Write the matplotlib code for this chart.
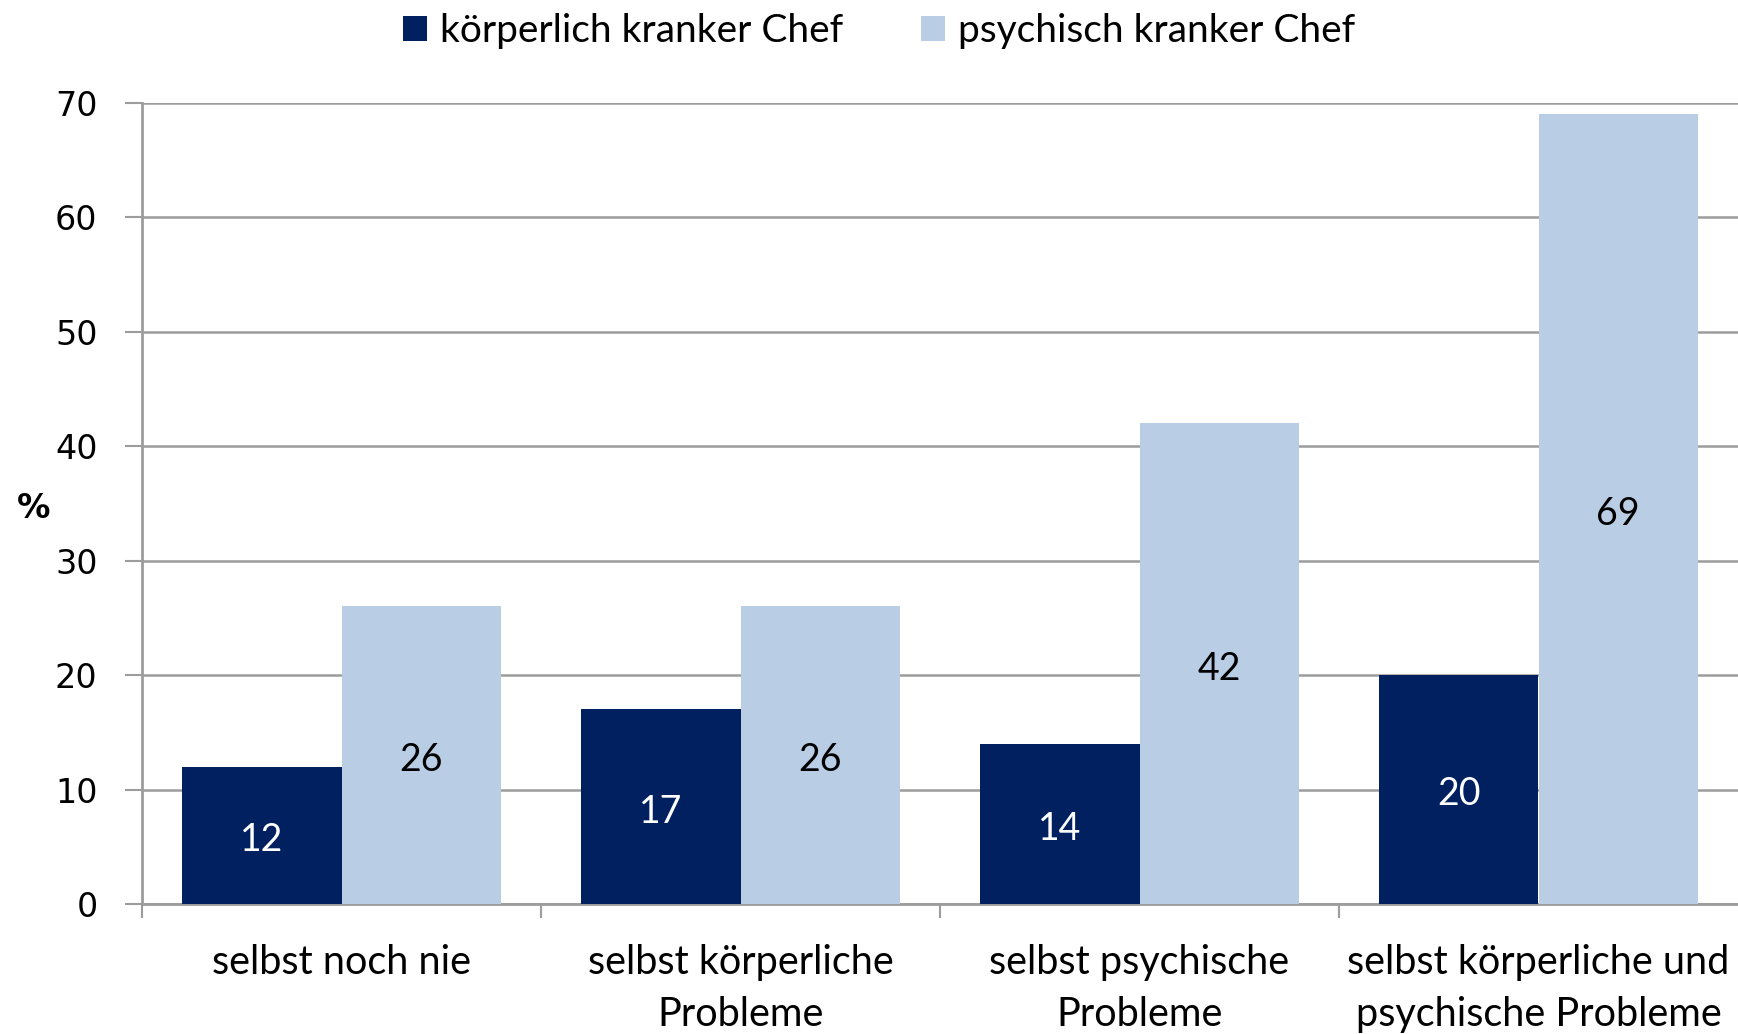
import matplotlib
matplotlib.use("Agg")
import matplotlib.pyplot as plt
import numpy as np

categories = ["selbst noch nie", "selbst körperliche\nProbleme", "selbst psychische\nProbleme",
              "selbst körperliche und\npsychische Probleme"]
series_names = ["körperlich kranker Chef", "psychisch kranker Chef"]
koerperlich = [12, 17, 14, 20]
psychisch = [26, 26, 42, 69]
yticks = [0, 10, 20, 30, 40, 50, 60, 70]

dark = "#002060"
light = "#B9CDE5"
grid_c = "#9C9C9C"
txt_font = ["Lato", "DejaVu Sans"]

fig = plt.figure(figsize=(17.38, 10.34), dpi=100)
ax = fig.add_axes([142/1738, 1-904/1034, 1-142/1738, (904-103)/1034])

x = np.arange(len(categories))
w = 0.4
b1 = ax.bar(x - w/2, koerperlich, w, color=dark, label=series_names[0], zorder=3)
b2 = ax.bar(x + w/2, psychisch, w, color=light, label=series_names[1], zorder=3)

for bars, vals, col in ((b1, koerperlich, "white"), (b2, psychisch, "black")):
    for rect, v in zip(bars, vals):
        ax.annotate(str(v), (rect.get_x() + rect.get_width()/2, v/2), xytext=(0, -3.5),
                    textcoords="offset points", ha="center", va="center",
                    color=col, fontsize=27, family=txt_font, zorder=4)

ax.set_xlim(-0.5, len(categories) - 0.5)
ax.set_ylim(0, 70)
ax.set_yticks(yticks)
ax.set_yticklabels([str(t) for t in yticks], fontsize=24, family="DejaVu Sans")
ax.yaxis.grid(True, color=grid_c, linewidth=1.8, zorder=0)
ax.set_axisbelow(True)

ax.set_xticks(x)
ax.set_xticklabels(categories, fontsize=28.5, family=txt_font, linespacing=1.5)
ax.tick_params(axis="x", length=0, pad=29)
ax.set_xticks(np.arange(len(categories)) - 0.5, minor=True)
ax.tick_params(axis="x", which="minor", length=10, width=1.5, color=grid_c, direction="out")
ax.tick_params(axis="y", length=12, width=1.5, color=grid_c, pad=20)

for s in ["top", "right"]:
    ax.spines[s].set_visible(False)
for s in ["left", "bottom"]:
    ax.spines[s].set_color(grid_c)
    ax.spines[s].set_linewidth(2)

fig.text(0.0096, 1-508/1034, "%", fontsize=24, fontweight="bold", family="DejaVu Sans",
         ha="left", va="center")

leg = fig.legend(loc="center", bbox_to_anchor=(0.506, 1-31/1034), ncol=2, frameon=False,
                 prop={"family": txt_font, "size": 28}, handlelength=0.6, handleheight=0.6,
                 handletextpad=0.35, columnspacing=2.0)

fig.savefig("out.png", dpi=100)
